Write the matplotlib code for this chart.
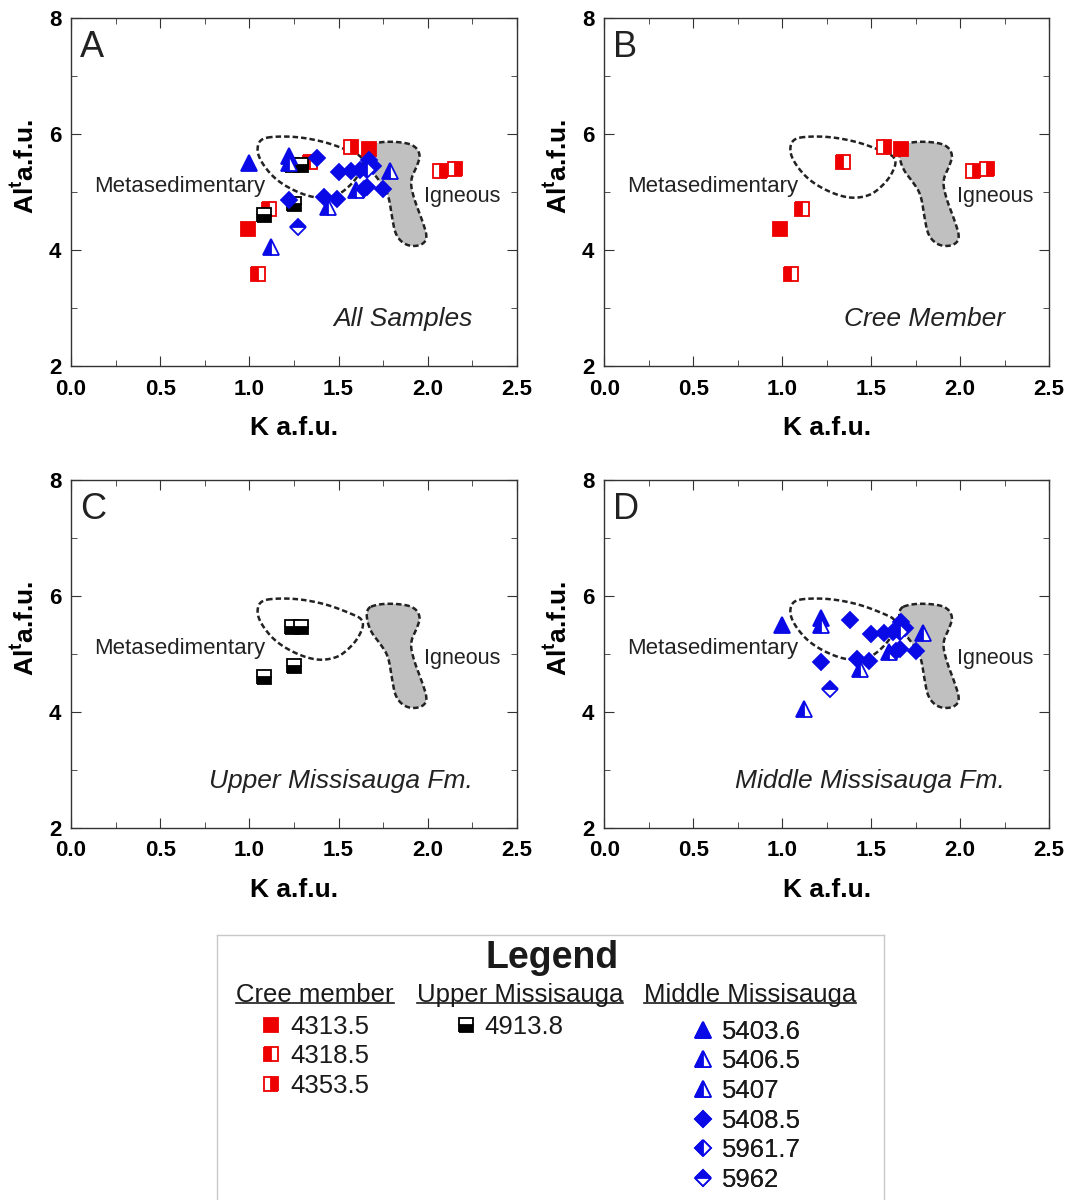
import numpy as np
import matplotlib
matplotlib.use('Agg')
import matplotlib.pyplot as plt
from matplotlib.patches import Polygon
from matplotlib.lines import Line2D

plt.rcParams['font.family'] = ['Liberation Sans', 'DejaVu Sans']
plt.rcParams['mathtext.fontset'] = 'custom'
plt.rcParams['mathtext.rm'] = 'Liberation Sans'
plt.rcParams['mathtext.bf'] = 'Liberation Sans:bold'

# ---- data (K a.f.u., Al a.f.u.) ----
cree_4313_5_k = [0.99, 1.67]
cree_4313_5_al = [4.36, 5.74]
cree_4318_5_k = [1.05, 1.11, 1.34]
cree_4318_5_al = [3.59, 4.71, 5.51]
cree_4353_5_k = [1.57, 2.07, 2.15]
cree_4353_5_al = [5.78, 5.36, 5.40]

upper_4913_8_k = [1.08, 1.24, 1.25, 1.29]
upper_4913_8_al = [4.60, 5.47, 4.79, 5.47]

mid_5403_6_k = [1.00, 1.22]
mid_5403_6_al = [5.50, 5.62]
mid_5406_5_k = [1.22, 1.44, 1.60]
mid_5406_5_al = [5.50, 4.75, 5.04]
mid_5407_k = [1.12, 1.79]
mid_5407_al = [4.05, 5.37]
mid_5408_5_k = [1.38, 1.50, 1.57, 1.62, 1.67, 1.69, 1.64, 1.66, 1.75, 1.22, 1.42, 1.49]
mid_5408_5_al = [5.58, 5.34, 5.37, 5.38, 5.56, 5.45, 5.05, 5.08, 5.06, 4.87, 4.91, 4.88]
mid_5961_7_k = [1.66]
mid_5961_7_al = [5.38]
mid_5962_k = [1.27]
mid_5962_al = [4.40]

# field outlines
meta_k = [1.06, 1.15, 1.28, 1.43, 1.56, 1.65, 1.61, 1.53, 1.47, 1.38, 1.27, 1.15, 1.07, 1.04]
meta_al = [5.92, 5.96, 5.95, 5.86, 5.71, 5.58, 5.26, 5.01, 4.92, 4.89, 4.99, 5.20, 5.49, 5.72]
ign_k = [1.65, 1.72, 1.82, 1.92, 1.96, 1.94, 1.90, 1.92, 1.97, 2.00, 1.96, 1.88, 1.82, 1.80, 1.78, 1.74, 1.67]
ign_al = [5.78, 5.86, 5.87, 5.82, 5.65, 5.45, 5.20, 4.90, 4.50, 4.20, 4.07, 4.07, 4.24, 4.55, 4.95, 5.15, 5.42]

RED = '#ee0000'
BLUE = '#0a0ae6'

samples = {
    'cree': [
        ('4313.5', cree_4313_5_k, cree_4313_5_al, 's', 'full', RED),
        ('4318.5', cree_4318_5_k, cree_4318_5_al, 's', 'left', RED),
        ('4353.5', cree_4353_5_k, cree_4353_5_al, 's', 'right', RED),
    ],
    'upper': [
        ('4913.8', upper_4913_8_k, upper_4913_8_al, 's', 'bottom', 'black'),
    ],
    'mid': [
        ('5403.6', mid_5403_6_k, mid_5403_6_al, '^', 'full', BLUE),
        ('5406.5', mid_5406_5_k, mid_5406_5_al, '^', 'left', BLUE),
        ('5407', mid_5407_k, mid_5407_al, '^', 'left', BLUE),
        ('5408.5', mid_5408_5_k, mid_5408_5_al, 'D', 'full', BLUE),
        ('5961.7', mid_5961_7_k, mid_5961_7_al, 'D', 'left', BLUE),
        ('5962', mid_5962_k, mid_5962_al, 'D', 'top', BLUE),
    ],
}
msize = {'s': 10, '^': 11, 'D': 8.5}


def chaikin(xs, ys, n=3):
    pts = np.column_stack([xs, ys]).astype(float)
    for _ in range(n):
        nxt = np.roll(pts, -1, axis=0)
        new = np.empty((2 * len(pts), 2))
        new[0::2] = 0.75 * pts + 0.25 * nxt
        new[1::2] = 0.25 * pts + 0.75 * nxt
        pts = new
    return pts


def plot_group(ax, group):
    handles = []
    for lab, k, al, m, fs, c in samples[group]:
        h, = ax.plot(k, al, linestyle='none', marker=m, markersize=msize[m],
                     fillstyle=fs, markerfacecolor=c, markerfacecoloralt='white',
                     markeredgecolor=c, markeredgewidth=1.3, zorder=3, label=lab)
        handles.append(h)
    return handles


fig = plt.figure(figsize=(10.75, 12), dpi=100)

panels = [
    ('A', 'All Samples', ['cree', 'upper', 'mid'], [0.066, 0.695, 0.415, 0.29]),
    ('B', 'Cree Member', ['cree'], [0.562, 0.695, 0.414, 0.29]),
    ('C', 'Upper Missisauga Fm.', ['upper'], [0.066, 0.31, 0.415, 0.29]),
    ('D', 'Middle Missisauga Fm.', ['mid'], [0.562, 0.31, 0.414, 0.29]),
]

all_handles = {}
for letter, caption, groups, rect in panels:
    ax = fig.add_axes(rect)
    ax.set_xlim(0, 2.5)
    ax.set_ylim(2, 8)

    ign = Polygon(chaikin(ign_k, ign_al), closed=True, facecolor='#c0c0c0',
                  edgecolor='#222222', linewidth=1.8, linestyle=(0, (2.2, 1.2)), zorder=1)
    ax.add_patch(ign)
    meta = Polygon(chaikin(meta_k, meta_al), closed=True, facecolor='none',
                   edgecolor='#222222', linewidth=1.8, linestyle=(0, (2.2, 1.2)), zorder=2)
    ax.add_patch(meta)

    for g in groups:
        hs = plot_group(ax, g)
        if letter == 'A':
            all_handles[g] = hs

    ax.text(0.13, 5.09, 'Metasedimentary', fontsize=16, va='center', ha='left', color='#222222')
    ax.text(1.98, 4.93, 'Igneous', fontsize=15.5, va='center', ha='left', color='#222222')
    ax.text(2.25, 2.81, caption, fontsize=19, style='italic', va='center', ha='right', color='#222222')
    ax.text(0.02, 0.914, letter, transform=ax.transAxes, fontsize=26, va='center', ha='left',
            color='#222222')

    ax.set_xticks(np.arange(0, 2.51, 0.5))
    ax.set_xticks(np.arange(0, 2.51, 0.25), minor=True)
    ax.set_yticks([2, 4, 6, 8])
    ax.set_yticks([3, 5, 7], minor=True)
    ax.xaxis.set_major_formatter(matplotlib.ticker.FormatStrFormatter('%.1f'))
    ax.tick_params(which='both', direction='in', top=True, right=True, color='#333333')
    ax.tick_params(which='major', length=7, labelsize=16)
    ax.tick_params(which='minor', length=4)
    ax.tick_params(axis='x', which='major', pad=9)
    ax.tick_params(axis='y', which='major', pad=7)
    for t in ax.get_xticklabels() + ax.get_yticklabels():
        t.set_fontweight('bold')
    for s in ax.spines.values():
        s.set_color('#333333')
        s.set_linewidth(1)
    ax.set_xlabel('K a.f.u.', fontsize=19, fontweight='bold', labelpad=12)
    ax.set_ylabel(r'Al$^{\mathbf{t}}$a.f.u.', fontsize=19, fontweight='bold', labelpad=8)
    ax.yaxis.set_label_coords(-0.074, 0.575)

# ---- legend box ----
lax = fig.add_axes([0.2019, 0.0, 0.6205, 0.2208])
lax.set_xticks([])
lax.set_yticks([])
lax.set_xlim(0, 1)
lax.set_ylim(0, 1)
lax.spines['bottom'].set_visible(False)
for s in ['left', 'right', 'top']:
    lax.spines[s].set_color('#c8c8c8')
    lax.spines[s].set_linewidth(1)

lax.text(0.502, 0.912, 'Legend', fontsize=27, fontweight='bold', ha='center', va='center',
         color='#1a1a1a')

headers = [('Cree member', 0.147), ('Upper Missisauga', 0.454), ('Middle Missisauga', 0.799)]
htexts = []
for txt, hx in headers:
    htexts.append(lax.text(hx, 0.775, txt, fontsize=18.5, ha='center', va='center', color='#1a1a1a'))

leg_cfg = [('cree', (0.069, 0.70)), ('upper', (0.361, 0.70)), ('mid', (0.717, 0.68))]
for g, anchor in leg_cfg:
    leg = lax.legend(handles=all_handles[g], loc='upper left', bbox_to_anchor=anchor,
                     frameon=False, fontsize=18.5, handlelength=0.6, handletextpad=0.45,
                     labelspacing=0.22, borderpad=0, borderaxespad=0)
    for t in leg.get_texts():
        t.set_color('#1a1a1a')
    lax.add_artist(leg)

# underline headers
fig.canvas.draw()
r = fig.canvas.get_renderer()
inv = lax.transAxes.inverted()
for t in htexts:
    bb = t.get_window_extent(r)
    (x0, y0), (x1, y1) = inv.transform([(bb.x0, bb.y0), (bb.x1, bb.y1)])
    lax.add_line(Line2D([x0, x1], [y0 + 0.012, y0 + 0.012], color='#1a1a1a', linewidth=1.2))

fig.savefig('out.png', dpi=100)
